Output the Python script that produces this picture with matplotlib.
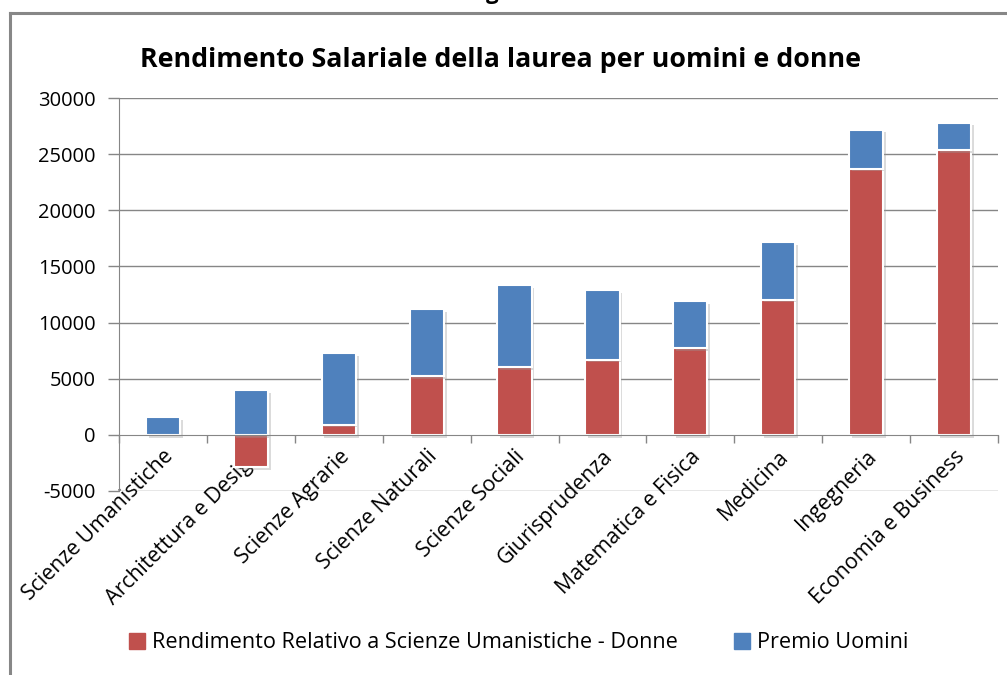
import matplotlib
matplotlib.use("Agg")
import matplotlib.pyplot as plt
import matplotlib.patheffects as pe
import matplotlib.transforms as mtransforms
from matplotlib.lines import Line2D
from matplotlib.patches import Patch
import numpy as np

categories = ["Scienze Umanistiche", "Architettura e Design", "Scienze Agrarie",
              "Scienze Naturali", "Scienze Sociali", "Giurisprudenza",
              "Matematica e Fisica", "Medicina", "Ingegneria", "Economia e Business"]
donne = [0, -2880, 920, 5210, 6050, 6700, 7740, 12040, 23720, 25380]
premio_uomini = [1550, 3970, 6340, 5960, 7260, 6170, 4150, 5100, 3470, 2430]
yticks = [-5000, 0, 5000, 10000, 15000, 20000, 25000, 30000]

title = "Rendimento Salariale della laurea per uomini e donne"
label_donne = "Rendimento Relativo a Scienze Umanistiche - Donne"
label_uomini = "Premio Uomini"

RED = "#C0504D"
BLUE = "#4F81BD"
GRID = "#868686"
FONT = "Open Sans"

W, H = 1007, 675
fig = plt.figure(figsize=(W / 100, H / 100), dpi=100)
ax = fig.add_axes([119 / W, 1 - 491 / H, (998 - 119) / W, (491 - 98) / H])

x = np.arange(len(categories))
bottom_u = np.maximum(np.array(donne), 0)
shadow = [pe.SimplePatchShadow(offset=(2, -2), shadow_rgbFace="#999999", alpha=0.35), pe.Normal()]
b1 = ax.bar(x, donne, width=0.39, color=RED, edgecolor="white", linewidth=1.5, zorder=3)
b2 = ax.bar(x, premio_uomini, width=0.39, bottom=bottom_u, color=BLUE, edgecolor="white",
            linewidth=1.5, zorder=3)
for p in list(b1) + list(b2):
    p.set_path_effects(shadow)

ax.set_xlim(-0.5, len(categories) - 0.5)
ax.set_ylim(-5000, 30000)
ax.set_yticks(yticks)
ax.set_yticklabels([str(v) for v in yticks], fontsize=14.5, fontfamily=FONT)
for v in yticks:
    if v != 0:
        ax.axhline(v, color=GRID, lw=1.0, zorder=1)

for s in ["top", "right"]:
    ax.spines[s].set_visible(False)
ax.spines["left"].set_color(GRID)
ax.spines["bottom"].set_color(GRID)
ax.spines["bottom"].set_position(("data", 0))
ax.spines["bottom"].set_zorder(4)
ax.tick_params(axis="y", length=8, color=GRID, pad=9, width=1)

ax.set_xticks(x)
ax.set_xticklabels(categories, rotation=45, ha="right", va="top", rotation_mode="anchor",
                   fontsize=15.3, fontfamily=FONT)
offset = mtransforms.ScaledTranslation(12 / 100, 0, fig.dpi_scale_trans)
for lbl in ax.get_xticklabels():
    lbl.set_transform(lbl.get_transform() + offset)
ax.set_xticks(np.arange(-0.5, len(categories), 1.0), minor=True)
ax.tick_params(axis="x", which="major", length=0, pad=8)
ax.tick_params(axis="x", which="minor", length=6, color=GRID, width=1, direction="out")

fig.text(500 / W, 1 - 67 / H, title, ha="center", va="baseline", fontsize=19.3,
         fontweight="bold", fontfamily=FONT)

handles = [Patch(facecolor=RED, edgecolor=RED), Patch(facecolor=BLUE, edgecolor=BLUE)]
fig.legend(handles, [label_donne, label_uomini], loc="center", bbox_to_anchor=(519 / W, 1 - 643 / H),
           ncol=2, frameon=False, handlelength=0.7, handleheight=0.7, handletextpad=0.35,
           columnspacing=2.6, prop={"family": FONT, "size": 15.6})

# chart area border (partially cropped)
fig.add_artist(Line2D([10 / W, 10 / W], [0, 1 - 13 / H], color="#878787", lw=2.2, transform=fig.transFigure))
fig.add_artist(Line2D([10 / W, 1], [1 - 13 / H, 1 - 13 / H], color="#878787", lw=2.2, transform=fig.transFigure))
# cropped glyph of outer heading (only its descender is visible)
fig.text(492 / W, 1 + 1 / H, "g", ha="center", va="baseline", fontsize=16, fontweight="bold",
         fontfamily=FONT)

fig.savefig("out.png", dpi=100)
